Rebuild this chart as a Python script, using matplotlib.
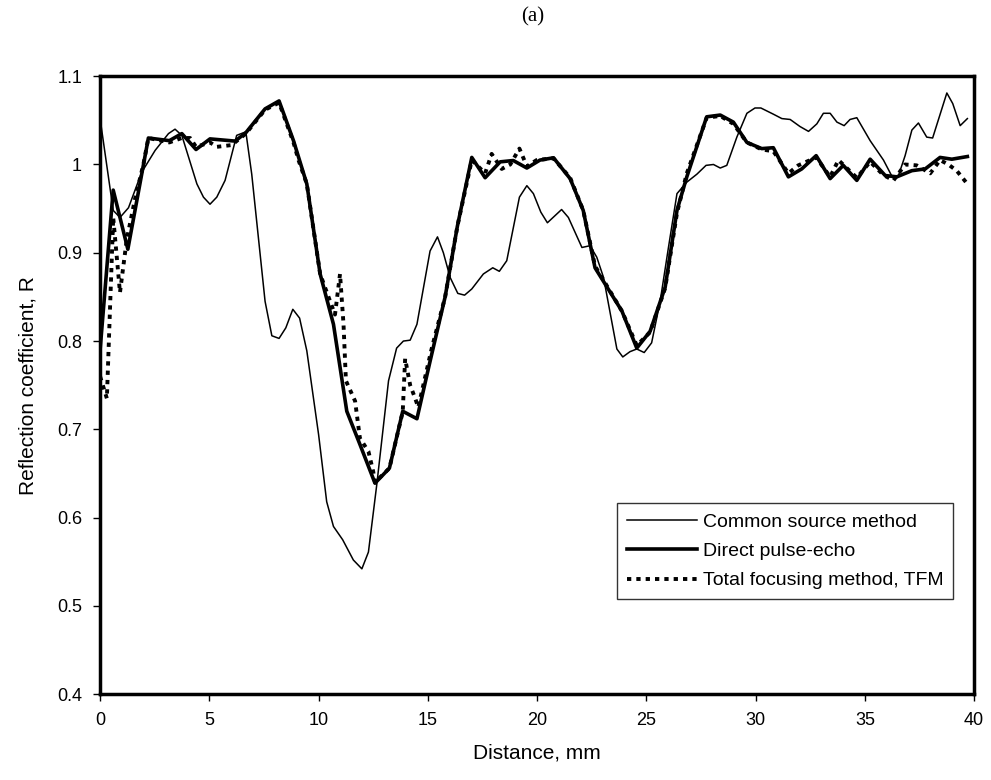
import numpy as np
import matplotlib.pyplot as plt

plt.rcParams['font.family'] = ['Liberation Sans', 'DejaVu Sans']

# Common source method (thin line)
cs_x = [0, 0.60, 0.91, 1.30, 1.90, 2.52, 3.13, 3.43, 3.74, 4.43, 4.73, 5.03, 5.34, 5.72,
        6.25, 6.67, 6.94, 7.55, 7.86, 8.19, 8.50, 8.82, 9.13, 9.46, 10.00, 10.37, 10.68,
        11.10, 11.59, 11.98, 12.28, 12.66, 13.20, 13.57, 13.88, 14.19, 14.50, 15.10, 15.44,
        15.71, 16.02, 16.37, 16.68, 17.01, 17.54, 17.97, 18.27, 18.61, 19.19, 19.53, 19.83,
        20.17, 20.47, 21.12, 21.43, 22.05, 22.42, 22.73, 23.04, 23.65, 23.92, 24.25, 24.56,
        24.90, 25.24, 25.63, 26.01, 26.40, 26.85, 27.31, 27.73, 28.07, 28.38, 28.68, 29.14,
        29.60, 29.97, 30.24, 30.81, 31.20, 31.58, 32.03, 32.42, 32.80, 33.10, 33.41, 33.72,
        34.05, 34.32, 34.63, 35.24, 35.85, 36.23, 36.53, 36.84, 37.15, 37.45, 37.83, 38.10,
        38.75, 39.02, 39.36, 39.69]
cs_r = [1.052, 0.948, 0.940, 0.951, 0.991, 1.016, 1.035, 1.040, 1.033, 0.978, 0.963, 0.955,
        0.963, 0.982, 1.033, 1.037, 0.989, 0.845, 0.806, 0.803, 0.815, 0.836, 0.826, 0.789,
        0.694, 0.618, 0.590, 0.575, 0.552, 0.542, 0.561, 0.637, 0.755, 0.792, 0.800, 0.801,
        0.819, 0.902, 0.918, 0.900, 0.872, 0.854, 0.852, 0.859, 0.876, 0.883, 0.879, 0.891,
        0.963, 0.976, 0.967, 0.946, 0.934, 0.949, 0.940, 0.906, 0.908, 0.895, 0.872, 0.791,
        0.782, 0.788, 0.791, 0.787, 0.798, 0.845, 0.906, 0.967, 0.980, 0.989, 0.999, 1.000,
        0.996, 0.999, 1.031, 1.058, 1.064, 1.064, 1.057, 1.052, 1.051, 1.043, 1.0375, 1.046,
        1.058, 1.058, 1.048, 1.044, 1.051, 1.053, 1.027, 1.005, 0.987, 0.987, 1.010, 1.039,
        1.047, 1.031, 1.030, 1.081, 1.069, 1.044, 1.052]

# Direct pulse-echo (thick line)
pe_x = [0, 0.60, 1.27, 2.21, 3.17, 3.74, 4.39, 5.03, 6.18, 6.67, 7.55, 8.19, 8.85, 9.46,
        10.07, 10.68, 11.29, 11.89, 12.58, 13.24, 13.85, 14.50, 15.10, 15.79, 16.35, 17.01,
        17.62, 18.31, 18.91, 19.53, 20.13, 20.75, 21.51, 22.11, 22.65, 23.88, 24.56, 25.17,
        25.86, 26.40, 26.85, 27.76, 28.38, 28.98, 29.60, 30.28, 30.81, 31.50, 32.11, 32.77,
        33.41, 34.01, 34.63, 35.24, 35.93, 36.46, 37.15, 37.76, 38.44, 38.98, 39.69]
pe_r = [0.79, 0.971, 0.904, 1.030, 1.027, 1.035, 1.017, 1.029, 1.0265, 1.036, 1.063, 1.072,
        1.027, 0.978, 0.876, 0.819, 0.7205, 0.683, 0.639, 0.656, 0.7205, 0.712, 0.777, 0.850,
        0.930, 1.008, 0.985, 1.003, 1.0045, 0.996, 1.005, 1.0076, 0.984, 0.948, 0.883, 0.834,
        0.792, 0.811, 0.861, 0.948, 0.986, 1.054, 1.056, 1.048, 1.025, 1.018, 1.019, 0.986,
        0.995, 1.010, 0.984, 0.999, 0.982, 1.006, 0.9875, 0.986, 0.993, 0.995, 1.008, 1.006,
        1.009]

# Total focusing method, TFM (dotted)
tfm_x = [0, 0.31, 0.60, 0.91, 1.22, 1.59, 1.98, 2.21, 3.17, 3.74, 4.12, 4.39, 5.03, 5.34,
         6.02, 6.67, 7.55, 8.19, 8.85, 9.08, 9.46, 10.07, 10.29, 10.75, 10.98, 11.14, 11.25,
         11.67, 11.89, 12.28, 12.50, 12.58, 13.24, 13.85, 13.96, 14.19, 14.42, 14.56, 15.16,
         15.79, 16.35, 17.01, 17.62, 17.92, 18.38, 18.77, 19.19, 19.53, 19.98, 20.75, 21.51,
         22.11, 22.65, 23.88, 24.56, 25.17, 25.86, 26.40, 26.85, 27.76, 28.38, 28.98, 29.60,
         30.28, 30.81, 31.50, 31.95, 32.77, 33.41, 33.79, 34.63, 35.24, 35.85, 36.31, 36.84,
         37.37, 37.99, 38.44, 38.82, 39.20, 39.69]
tfm_r = [0.76, 0.735, 0.94, 0.855, 0.915, 0.96, 1.0, 1.03, 1.025, 1.03, 1.03, 1.02, 1.025,
         1.02, 1.022, 1.035, 1.062, 1.07, 1.025, 1.005, 0.978, 0.876, 0.861, 0.83, 0.876,
         0.819, 0.755, 0.732, 0.69, 0.675, 0.652, 0.64, 0.656, 0.72, 0.78, 0.75, 0.735,
         0.725, 0.79, 0.85, 0.93, 1.005, 0.99, 1.012, 0.995, 1.0, 1.018, 0.998, 1.005, 1.007,
         0.985, 0.948, 0.885, 0.834, 0.795, 0.81, 0.86, 0.945, 0.99, 1.053, 1.055, 1.046,
         1.025, 1.017, 1.015, 0.99, 0.999, 1.008, 0.986, 1.005, 0.985, 1.003, 0.988, 0.982,
         1.0, 0.999, 0.99, 1.005, 1.0, 0.993, 0.978]

fig = plt.figure(figsize=(9.91, 7.8), dpi=100)
ax = fig.add_axes([0.101, 0.110, 0.882, 0.7923])

ax.plot(cs_x, cs_r, color='black', linewidth=1.1, label='Common source method')
ax.plot(pe_x, pe_r, color='black', linewidth=2.6, label='Direct pulse-echo')
ax.plot(tfm_x, tfm_r, color='black', linewidth=2.8, linestyle=(0, (1.1, 1.3)),
        label='Total focusing method, TFM')

ax.set_xlim(0, 40)
ax.set_ylim(0.4, 1.1)
ax.set_xticks(np.arange(0, 41, 5))
ax.set_yticks(np.round(np.arange(0.4, 1.11, 0.1), 1))
ax.set_yticklabels(['0.4', '0.5', '0.6', '0.7', '0.8', '0.9', '1', '1.1'])
ax.tick_params(direction='out', length=5, width=1, labelsize=13, pad=8)
for s in ax.spines.values():
    s.set_linewidth(2.5)

ax.set_xlabel('Distance, mm', fontsize=15, labelpad=10)
ax.set_ylabel('Reflection coefficient, R', fontsize=15, labelpad=14)
fig.text(0.538, 0.978, '(a)', ha='center', va='center', fontsize=15,
         family=['Liberation Serif', 'DejaVu Serif'])

leg = ax.legend(loc='lower right', bbox_to_anchor=(0.976, 0.154), fontsize=14,
                frameon=True, fancybox=False, edgecolor='black', handlelength=3.6,
                handletextpad=0.3, borderpad=0.5, labelspacing=0.6, borderaxespad=0)
leg.get_frame().set_linewidth(1.0)

plt.savefig('out.png', dpi=100)
